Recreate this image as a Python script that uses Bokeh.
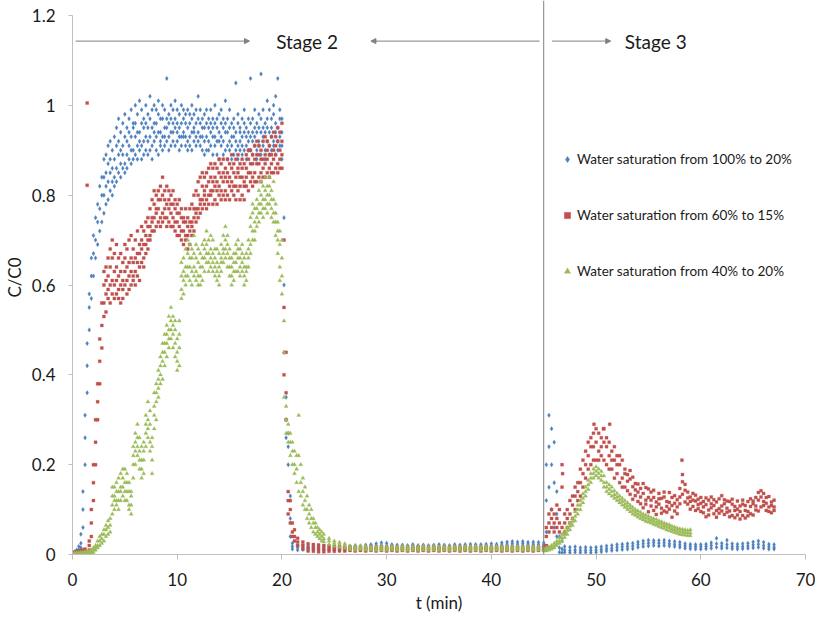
from bokeh.plotting import figure
from bokeh.models import Range1d, FixedTicker, Legend, LegendItem, Arrow, NormalHead, Span
from bokeh.embed import file_html
from bokeh.resources import INLINE
from bokeh.core.properties import value

# ---------------- axis ticks / labels ----------------
x_ticks = [0, 10, 20, 30, 40, 50, 60, 70]
x_tick_labels = ["0", "10", "20", "30", "40", "50", "60", "70"]
y_ticks = [0, 0.2, 0.4, 0.6, 0.8, 1.0, 1.2]
y_tick_labels = ["0", "0.2", "0.4", "0.6", "0.8", "1", "1.2"]
x_title = "t (min)"
y_title = "C/C0"

series_names = ["Water saturation from 100% to 20%",
                "Water saturation from 60% to 15%",
                "Water saturation from 40% to 20%"]
stage_labels = ["Stage 2", "Stage 3"]

# ---------------- data: rows of (t [min], C/C0 readings at that time) ----------------
blue_rows = [
    (0.0, 0.000, 0.002, 0.004), (0.2, 0.002, 0.004, 0.006), (0.4, 0.003, 0.006, 0.010),
    (0.6, 0.005, 0.010, 0.018), (0.8, 0.015, 0.025, 0.045), (1.0, 0.06, 0.10, 0.14),
    (1.2, 0.20, 0.26, 0.31), (1.4, 0.36, 0.42, 0.47), (1.6, 0.50, 0.55, 0.58),
    (1.8, 0.57, 0.62, 0.66), (2.0, 0.62, 0.67, 0.71), (2.2, 0.66, 0.70, 0.75),
    (2.4, 0.69, 0.74, 0.78), (2.6, 0.72, 0.77, 0.82), (2.8, 0.74, 0.80, 0.84),
    (3.0, 0.76, 0.84, 0.80, 0.88), (3.2, 0.82, 0.78, 0.89, 0.85), (3.4, 0.79, 0.87, 0.83, 0.91),
    (3.6, 0.85, 0.81, 0.92, 0.88), (3.8, 0.83, 0.90, 0.86, 0.80), (4.0, 0.88, 0.84, 0.93, 0.82),
    (4.2, 0.86, 0.91, 0.83, 0.95), (4.4, 0.92, 0.85, 0.89, 0.97), (4.6, 0.84, 0.94, 0.90, 0.87),
    (4.8, 0.91, 0.86, 0.96, 0.89), (5.0, 0.87, 0.93, 0.85, 0.98), (5.2, 0.95, 0.89, 0.92, 0.86),
    (5.4, 0.88, 0.97, 0.91, 0.94), (5.6, 0.93, 0.87, 0.99, 0.90), (5.8, 0.90, 0.95, 0.88, 0.96),
    (6.0, 0.96, 0.89, 0.93, 1.00), (6.2, 0.88, 0.98, 0.91, 0.94), (6.4, 0.94, 0.90, 1.01, 0.92),
    (6.6, 0.91, 0.96, 0.88, 0.99), (6.8, 0.97, 0.92, 0.95, 0.89), (7.0, 0.90, 1.00, 0.93, 0.96),
    (7.2, 0.95, 0.89, 0.98, 0.92), (7.4, 0.93, 0.97, 0.90, 1.02), (7.6, 0.99, 0.91, 0.95, 0.88),
    (7.8, 0.92, 0.96, 1.00, 0.94), (8.0, 0.96, 0.90, 0.93, 0.99), (8.2, 0.89, 0.98, 0.94, 1.01),
    (8.4, 0.94, 0.91, 0.97, 0.92), (8.6, 0.97, 0.93, 0.90, 1.00), (8.8, 0.91, 0.99, 0.95, 0.93),
    (9.0, 0.95, 0.92, 1.06, 0.97), (9.2, 0.93, 0.98, 0.90, 0.96), (9.4, 1.00, 0.94, 0.97, 0.91),
    (9.6, 0.92, 0.96, 0.99, 0.94), (9.8, 0.97, 0.91, 0.95, 1.01), (10.0, 0.94, 0.99, 0.92, 0.96),
    (10.2, 0.90, 0.95, 0.98, 0.93), (10.4, 0.96, 0.93, 1.00, 0.91), (10.6, 0.93, 0.97, 0.94, 0.99),
    (10.8, 0.98, 0.91, 0.96, 0.93), (11.0, 0.92, 0.95, 0.99, 0.90), (11.2, 0.96, 0.93, 0.91, 0.98),
    (11.4, 0.90, 0.97, 0.94, 1.00), (11.6, 0.95, 0.92, 0.98, 0.94), (11.8, 0.93, 0.99, 0.91, 0.96),
    (12.0, 0.97, 0.94, 1.02, 0.92), (12.2, 0.91, 0.96, 0.93, 0.99), (12.4, 0.95, 0.90, 0.97, 0.93),
    (12.6, 0.92, 0.98, 0.95, 0.89), (12.8, 0.96, 0.93, 0.90, 0.99), (13.0, 0.90, 0.95, 0.97, 0.92),
    (13.2, 0.94, 0.91, 0.99, 0.96), (13.4, 0.97, 0.93, 0.89, 0.95), (13.6, 0.91, 0.96, 0.93, 1.00),
    (13.8, 0.95, 0.89, 0.97, 0.92), (14.0, 0.92, 0.98, 0.94, 0.88), (14.2, 0.96, 0.91, 0.99, 0.93),
    (14.4, 0.89, 0.95, 0.92, 0.97), (14.6, 0.94, 0.90, 0.96, 1.01), (14.8, 0.91, 0.97, 0.88, 0.94),
    (15.0, 0.95, 0.92, 0.99, 0.90), (15.2, 0.88, 0.96, 0.93, 0.91), (15.4, 0.93, 0.89, 0.97, 0.95),
    (15.6, 0.90, 0.94, 1.05, 0.92), (15.8, 0.96, 0.91, 0.88, 0.98), (16.0, 0.92, 0.95, 0.90, 0.94),
    (16.2, 0.89, 0.97, 0.93, 0.91), (16.4, 0.94, 0.90, 0.96, 0.99), (16.6, 0.91, 0.95, 0.88, 0.93),
    (16.8, 0.97, 0.92, 0.94, 0.90), (17.0, 0.90, 0.96, 1.06, 0.93), (17.2, 0.94, 0.89, 0.97, 0.92),
    (17.4, 0.91, 0.95, 0.93, 0.99), (17.6, 0.96, 0.90, 0.94, 0.88), (17.8, 0.92, 0.98, 0.91, 0.95),
    (18.0, 0.89, 0.94, 1.07, 0.97), (18.2, 0.95, 0.91, 0.93, 0.99), (18.4, 0.90, 0.96, 0.88, 0.94),
    (18.6, 0.97, 0.92, 0.95, 1.01), (18.8, 0.91, 0.99, 0.94, 0.89), (19.0, 0.95, 0.90, 0.97, 0.93),
    (19.2, 0.92, 0.98, 0.91, 1.00), (19.4, 0.96, 0.89, 0.94, 1.02), (19.6, 0.90, 0.95, 1.06, 0.92),
    (19.8, 0.97, 0.93, 0.99, 0.91), (20.0, 0.88, 0.94, 0.97, 0.91), (20.2, 0.45, 0.60, 0.75),
    (20.4, 0.26, 0.30, 0.35), (20.6, 0.20, 0.24, 0.27), (20.8, 0.04, 0.08, 0.13),
    (21.0, 0.012, 0.018, 0.025),
    (21.5, 0.010, 0.015, 0.020), (22.0, 0.011, 0.016, 0.021), (22.5, 0.010, 0.014, 0.019),
    (23.0, 0.012, 0.016, 0.020), (23.5, 0.011, 0.015, 0.019), (24.0, 0.010, 0.014, 0.018),
    (24.5, 0.011, 0.015, 0.020), (25.0, 0.010, 0.014, 0.018), (25.5, 0.011, 0.015, 0.019),
    (26.0, 0.010, 0.014, 0.018), (26.5, 0.011, 0.015, 0.019), (27.0, 0.012, 0.016, 0.020),
    (27.5, 0.011, 0.015, 0.019), (28.0, 0.012, 0.016, 0.021), (28.5, 0.013, 0.017, 0.022),
    (29.0, 0.014, 0.019, 0.024), (29.5, 0.015, 0.020, 0.026), (30.0, 0.014, 0.019, 0.025),
    (30.5, 0.013, 0.018, 0.022), (31.0, 0.012, 0.016, 0.021), (31.5, 0.013, 0.017, 0.021),
    (32.0, 0.012, 0.016, 0.020), (32.5, 0.013, 0.017, 0.022), (33.0, 0.012, 0.016, 0.020),
    (33.5, 0.013, 0.017, 0.021), (34.0, 0.012, 0.016, 0.020), (34.5, 0.013, 0.017, 0.021),
    (35.0, 0.012, 0.017, 0.022), (35.5, 0.013, 0.017, 0.021), (36.0, 0.012, 0.016, 0.020),
    (36.5, 0.013, 0.017, 0.022), (37.0, 0.012, 0.017, 0.021), (37.5, 0.013, 0.018, 0.022),
    (38.0, 0.014, 0.018, 0.023), (38.5, 0.013, 0.017, 0.022), (39.0, 0.014, 0.018, 0.022),
    (39.5, 0.013, 0.018, 0.023), (40.0, 0.014, 0.019, 0.024), (40.5, 0.015, 0.019, 0.023),
    (41.0, 0.017, 0.021, 0.026), (41.5, 0.018, 0.023, 0.028), (42.0, 0.019, 0.024, 0.029),
    (42.5, 0.018, 0.023, 0.028), (43.0, 0.019, 0.024, 0.029), (43.5, 0.018, 0.023, 0.027),
    (44.0, 0.019, 0.023, 0.028), (44.5, 0.018, 0.022, 0.027),
    (45.0, 0.018, 0.022, 0.026), (45.25, 0.05, 0.12, 0.20), (45.5, 0.15, 0.24, 0.31),
    (45.75, 0.10, 0.20, 0.28), (46.0, 0.06, 0.16, 0.25), (46.25, 0.04, 0.09, 0.14),
    (46.5, 0.005, 0.015, 0.04), (46.75, 0.004, 0.012, 0.03), (47.0, 0.005, 0.010, 0.018),
    (47.5, 0.004, 0.009, 0.016), (48.0, 0.005, 0.010, 0.017), (48.5, 0.004, 0.009, 0.015),
    (49.0, 0.005, 0.010, 0.016), (49.5, 0.004, 0.009, 0.015), (50.0, 0.005, 0.010, 0.016),
    (50.5, 0.006, 0.011, 0.017), (51.0, 0.008, 0.013, 0.019), (51.5, 0.009, 0.014, 0.020),
    (52.0, 0.010, 0.016, 0.022), (52.5, 0.011, 0.017, 0.023), (53.0, 0.012, 0.018, 0.024),
    (53.5, 0.013, 0.019, 0.025), (54.0, 0.016, 0.022, 0.028), (54.5, 0.018, 0.024, 0.030),
    (55.0, 0.019, 0.025, 0.032), (55.5, 0.020, 0.026, 0.031), (56.0, 0.019, 0.025, 0.031),
    (56.5, 0.020, 0.026, 0.032), (57.0, 0.019, 0.024, 0.030), (57.5, 0.018, 0.023, 0.029),
    (58.0, 0.016, 0.021, 0.027), (58.5, 0.014, 0.019, 0.024), (59.0, 0.013, 0.018, 0.023),
    (59.5, 0.012, 0.017, 0.022), (60.0, 0.012, 0.017, 0.022), (60.5, 0.013, 0.018, 0.023),
    (61.0, 0.014, 0.020, 0.026), (61.5, 0.016, 0.024, 0.036), (62.0, 0.014, 0.019, 0.025),
    (62.5, 0.015, 0.022, 0.032), (63.0, 0.013, 0.018, 0.024), (63.5, 0.012, 0.017, 0.023),
    (64.0, 0.013, 0.018, 0.024), (64.5, 0.014, 0.019, 0.025), (65.0, 0.015, 0.021, 0.028),
    (65.5, 0.016, 0.023, 0.030), (66.0, 0.014, 0.020, 0.027), (66.5, 0.012, 0.017, 0.023),
    (67.0, 0.012, 0.016, 0.022),
]

red_rows = [
    (0.0, 0.000, 0.002, 0.004), (0.2, 0.001, 0.003, 0.005), (0.4, 0.002, 0.004, 0.006),
    (0.6, 0.002, 0.005, 0.008), (0.8, 0.003, 0.006, 0.009), (1.0, 0.003, 0.006, 0.010),
    (1.2, 0.004, 0.007, 0.012), (1.4, 0.005, 0.822, 1.005), (1.6, 0.01, 0.02, 0.03),
    (1.8, 0.04, 0.07, 0.10), (2.0, 0.12, 0.16, 0.20), (2.2, 0.20, 0.25, 0.30),
    (2.4, 0.30, 0.34, 0.38), (2.6, 0.38, 0.43, 0.48), (2.8, 0.46, 0.51, 0.56),
    (3.0, 0.53, 0.60, 0.56, 0.63), (3.2, 0.58, 0.54, 0.64, 0.61), (3.4, 0.62, 0.57, 0.66, 0.59),
    (3.6, 0.56, 0.64, 0.60, 0.68), (3.8, 0.66, 0.61, 0.70, 0.58), (4.0, 0.60, 0.67, 0.57, 0.63),
    (4.2, 0.64, 0.58, 0.69, 0.61), (4.4, 0.57, 0.62, 0.59, 0.66), (4.6, 0.63, 0.56, 0.67, 0.60),
    (4.8, 0.59, 0.65, 0.61, 0.57), (5.0, 0.66, 0.60, 0.63, 0.69), (5.2, 0.61, 0.68, 0.58, 0.64),
    (5.4, 0.65, 0.62, 0.70, 0.59), (5.6, 0.60, 0.66, 0.63, 0.71), (5.8, 0.68, 0.61, 0.65, 0.62),
    (6.0, 0.63, 0.70, 0.66, 0.60), (6.2, 0.67, 0.62, 0.72, 0.65), (6.4, 0.64, 0.69, 0.61, 0.67),
    (6.6, 0.70, 0.65, 0.68, 0.73), (6.8, 0.66, 0.72, 0.69, 0.64), (7.0, 0.71, 0.67, 0.74, 0.69),
    (7.2, 0.68, 0.75, 0.70, 0.73), (7.4, 0.73, 0.70, 0.77, 0.71), (7.6, 0.75, 0.72, 0.79, 0.74),
    (7.8, 0.72, 0.78, 0.75, 0.81), (8.0, 0.77, 0.73, 0.80, 0.76), (8.2, 0.74, 0.81, 0.77, 0.79),
    (8.4, 0.79, 0.75, 0.82, 0.73), (8.6, 0.76, 0.80, 0.74, 0.84), (8.8, 0.81, 0.77, 0.79, 0.75),
    (9.0, 0.75, 0.82, 0.78, 0.73), (9.2, 0.79, 0.74, 0.81, 0.77), (9.4, 0.76, 0.80, 0.73, 0.78),
    (9.6, 0.73, 0.78, 0.75, 0.81), (9.8, 0.77, 0.72, 0.79, 0.74), (10.0, 0.74, 0.78, 0.71, 0.76),
    (10.2, 0.71, 0.76, 0.73, 0.79), (10.4, 0.75, 0.70, 0.77, 0.72), (10.6, 0.72, 0.75, 0.69, 0.74),
    (10.8, 0.70, 0.74, 0.71, 0.77), (11.0, 0.73, 0.68, 0.75, 0.71), (11.2, 0.69, 0.74, 0.72, 0.77),
    (11.4, 0.74, 0.71, 0.78, 0.73), (11.6, 0.72, 0.77, 0.75, 0.80), (11.8, 0.77, 0.74, 0.81, 0.76),
    (12.0, 0.75, 0.80, 0.77, 0.83), (12.2, 0.79, 0.76, 0.84, 0.78), (12.4, 0.77, 0.82, 0.79, 0.85),
    (12.6, 0.81, 0.78, 0.84, 0.80), (12.8, 0.79, 0.85, 0.77, 0.82), (13.0, 0.83, 0.80, 0.86, 0.78),
    (13.2, 0.80, 0.84, 0.81, 0.87), (13.4, 0.78, 0.83, 0.86, 0.81), (13.6, 0.84, 0.79, 0.82, 0.87),
    (13.8, 0.81, 0.86, 0.78, 0.83), (14.0, 0.85, 0.80, 0.88, 0.82), (14.2, 0.79, 0.84, 0.81, 0.87),
    (14.4, 0.83, 0.88, 0.80, 0.85), (14.6, 0.86, 0.81, 0.84, 0.79), (14.8, 0.80, 0.85, 0.88, 0.83),
    (15.0, 0.84, 0.79, 0.82, 0.87), (15.2, 0.81, 0.86, 0.83, 0.89), (15.4, 0.85, 0.80, 0.87, 0.82),
    (15.6, 0.82, 0.88, 0.79, 0.84), (15.8, 0.86, 0.81, 0.85, 0.89), (16.0, 0.79, 0.84, 0.87, 0.82),
    (16.2, 0.84, 0.80, 0.86, 0.88), (16.4, 0.82, 0.87, 0.83, 0.79), (16.6, 0.86, 0.82, 0.89, 0.84),
    (16.8, 0.81, 0.88, 0.85, 0.90), (17.0, 0.87, 0.83, 0.90, 0.85), (17.2, 0.84, 0.89, 0.82, 0.87),
    (17.4, 0.88, 0.85, 0.91, 0.83), (17.6, 0.83, 0.87, 0.89, 0.92), (17.8, 0.89, 0.84, 0.87, 0.91),
    (18.0, 0.85, 0.90, 0.83, 0.88), (18.2, 0.88, 0.86, 0.92, 0.84), (18.4, 0.84, 0.89, 0.87, 0.93),
    (18.6, 0.90, 0.85, 0.88, 0.92), (18.8, 0.86, 0.91, 0.84, 0.89), (19.0, 0.89, 0.87, 0.93, 0.85),
    (19.2, 0.85, 0.90, 0.88, 0.94), (19.4, 0.91, 0.86, 0.89, 0.93), (19.6, 0.87, 0.92, 0.85, 0.95),
    (19.8, 0.90, 0.88, 0.94, 0.86), (20.0, 0.86, 0.92, 0.89, 0.96), (20.2, 0.40, 0.55, 0.70),
    (20.4, 0.30, 0.36, 0.45), (20.6, 0.09, 0.12, 0.14), (20.8, 0.07, 0.10, 0.12),
    (21.0, 0.04, 0.05, 0.07), (21.2, 0.03, 0.04, 0.055),
    (21.5, 0.020, 0.028, 0.036), (22.0, 0.012, 0.020, 0.028), (22.5, 0.008, 0.015, 0.024),
    (23.0, 0.007, 0.014, 0.022), (23.5, 0.006, 0.013, 0.021), (24.0, 0.006, 0.012, 0.020),
    (24.5, 0.007, 0.012, 0.019), (25.0, 0.007, 0.012, 0.018), (25.5, 0.008, 0.012, 0.017),
    (26.0, 0.008, 0.012, 0.016), (26.5, 0.009, 0.013, 0.017), (27.0, 0.008, 0.012, 0.016),
    (27.5, 0.009, 0.013, 0.017), (28.0, 0.008, 0.012, 0.016), (28.5, 0.009, 0.013, 0.017),
    (29.0, 0.008, 0.012, 0.016), (29.5, 0.009, 0.013, 0.018), (30.0, 0.008, 0.012, 0.016),
    (30.5, 0.009, 0.013, 0.017), (31.0, 0.008, 0.012, 0.016), (31.5, 0.009, 0.013, 0.017),
    (32.0, 0.008, 0.012, 0.016), (32.5, 0.009, 0.013, 0.017), (33.0, 0.008, 0.012, 0.016),
    (33.5, 0.009, 0.013, 0.017), (34.0, 0.008, 0.012, 0.016), (34.5, 0.009, 0.013, 0.017),
    (35.0, 0.008, 0.012, 0.016), (35.5, 0.009, 0.013, 0.017), (36.0, 0.008, 0.012, 0.016),
    (36.5, 0.009, 0.013, 0.017), (37.0, 0.008, 0.012, 0.016), (37.5, 0.009, 0.013, 0.017),
    (38.0, 0.008, 0.012, 0.016), (38.5, 0.009, 0.013, 0.017), (39.0, 0.008, 0.012, 0.016),
    (39.5, 0.009, 0.013, 0.017), (40.0, 0.008, 0.012, 0.016), (40.5, 0.009, 0.013, 0.017),
    (41.0, 0.008, 0.012, 0.016), (41.5, 0.009, 0.013, 0.017), (42.0, 0.008, 0.012, 0.016),
    (42.5, 0.009, 0.013, 0.017), (43.0, 0.008, 0.012, 0.016), (43.5, 0.009, 0.013, 0.017),
    (44.0, 0.008, 0.012, 0.016), (44.5, 0.009, 0.013, 0.017),
    (45.0, 0.010, 0.013, 0.017), (45.25, 0.02, 0.04, 0.06), (45.5, 0.07, 0.05, 0.09),
    (45.75, 0.08, 0.10, 0.06), (46.0, 0.05, 0.09, 0.07), (46.25, 0.08, 0.06, 0.11),
    (46.5, 0.05, 0.10, 0.07), (46.75, 0.15, 0.06, 0.20), (47.0, 0.07, 0.05, 0.09),
    (47.25, 0.06, 0.10, 0.08), (47.5, 0.09, 0.07, 0.12), (47.75, 0.11, 0.08, 0.13),
    (48.0, 0.13, 0.10, 0.15), (48.25, 0.12, 0.16, 0.14), (48.5, 0.16, 0.13, 0.19),
    (48.75, 0.18, 0.15, 0.21), (49.0, 0.20, 0.17, 0.23), (49.25, 0.22, 0.25, 0.19),
    (49.5, 0.24, 0.20, 0.26), (49.75, 0.21, 0.27, 0.24), (50.0, 0.25, 0.21, 0.28),
    (50.25, 0.23, 0.27, 0.21), (50.5, 0.26, 0.22, 0.24), (50.75, 0.21, 0.25, 0.28),
    (51.0, 0.24, 0.20, 0.26), (51.25, 0.22, 0.25, 0.19), (51.5, 0.19, 0.23, 0.21),
    (51.75, 0.21, 0.17, 0.24), (52.0, 0.18, 0.22, 0.20), (52.25, 0.20, 0.16, 0.22),
    (52.5, 0.17, 0.21, 0.15), (52.75, 0.19, 0.15, 0.18),
    (53.0, 0.142, 0.178, 0.163), (53.25, 0.168, 0.134, 0.187), (53.5, 0.151, 0.123, 0.172),
    (53.75, 0.131, 0.158, 0.144), (54.0, 0.157, 0.118, 0.139), (54.25, 0.113, 0.147, 0.128),
    (54.5, 0.136, 0.104, 0.158), (54.75, 0.121, 0.149, 0.112), (55.0, 0.127, 0.095, 0.146),
    (55.25, 0.108, 0.139, 0.121), (55.5, 0.098, 0.127, 0.143), (55.75, 0.117, 0.089, 0.106),
    (56.0, 0.136, 0.112, 0.124), (56.25, 0.103, 0.125, 0.092), (56.5, 0.128, 0.097, 0.139),
    (56.75, 0.094, 0.118, 0.107), (57.0, 0.116, 0.138, 0.101), (57.25, 0.109, 0.083, 0.127),
    (57.5, 0.097, 0.131, 0.114), (57.75, 0.122, 0.091, 0.106), (58.0, 0.113, 0.147, 0.128),
    (58.25, 0.162, 0.134, 0.178), (58.5, 0.143, 0.117, 0.156), (58.75, 0.112, 0.139, 0.126),
    (59.0, 0.128, 0.101, 0.118), (59.25, 0.107, 0.136, 0.121), (59.5, 0.119, 0.098, 0.132),
    (59.75, 0.102, 0.123, 0.111), (60.0, 0.127, 0.096, 0.114), (60.25, 0.093, 0.118, 0.106),
    (60.5, 0.111, 0.084, 0.126), (60.75, 0.121, 0.099, 0.088), (61.0, 0.104, 0.128, 0.113),
    (61.25, 0.091, 0.109, 0.122), (61.5, 0.117, 0.083, 0.098), (61.75, 0.102, 0.124, 0.092),
    (62.0, 0.108, 0.131, 0.097), (62.25, 0.089, 0.113, 0.122), (62.5, 0.119, 0.094, 0.103),
    (62.75, 0.097, 0.118, 0.084), (63.0, 0.112, 0.087, 0.123), (63.25, 0.082, 0.107, 0.098),
    (63.5, 0.101, 0.119, 0.088), (63.75, 0.108, 0.079, 0.096), (64.0, 0.087, 0.112, 0.121),
    (64.25, 0.098, 0.081, 0.109), (64.5, 0.118, 0.096, 0.086), (64.75, 0.091, 0.107, 0.124),
    (65.0, 0.113, 0.088, 0.119), (65.25, 0.099, 0.127, 0.108), (65.5, 0.121, 0.097, 0.138),
    (65.75, 0.128, 0.106, 0.142), (66.0, 0.109, 0.136, 0.118), (66.25, 0.127, 0.098, 0.114),
    (66.5, 0.106, 0.129, 0.096), (66.75, 0.117, 0.093, 0.109), (67.0, 0.098, 0.121, 0.106),
]
red_outliers = [(49.8, 0.29), (50.7, 0.28), (51.3, 0.29), (58.2, 0.21), (46.8, 0.18)]

green_rows = [
    (0.0, 0.000, 0.001, 0.003), (0.2, 0.000, 0.002, 0.003), (0.4, 0.001, 0.002, 0.004),
    (0.6, 0.001, 0.003, 0.004), (0.8, 0.001, 0.003, 0.005), (1.0, 0.002, 0.003, 0.005),
    (1.2, 0.002, 0.004, 0.006), (1.4, 0.002, 0.004, 0.006), (1.6, 0.003, 0.005, 0.008),
    (1.8, 0.003, 0.006, 0.010), (2.0, 0.005, 0.010, 0.015), (2.2, 0.010, 0.015, 0.020),
    (2.4, 0.015, 0.020, 0.030), (2.6, 0.020, 0.030, 0.040), (2.8, 0.025, 0.035, 0.045),
    (3.0, 0.030, 0.045, 0.055), (3.2, 0.040, 0.055, 0.065), (3.4, 0.045, 0.060, 0.075),
    (3.6, 0.050, 0.065, 0.080),
    (3.8, 0.09, 0.13, 0.11, 0.15), (4.0, 0.12, 0.10, 0.15, 0.13), (4.2, 0.14, 0.11, 0.16, 0.12),
    (4.4, 0.10, 0.14, 0.12, 0.17), (4.6, 0.15, 0.12, 0.18, 0.14), (4.8, 0.13, 0.17, 0.15, 0.19),
    (5.0, 0.16, 0.14, 0.19, 0.12), (5.2, 0.12, 0.16, 0.14, 0.18), (5.4, 0.11, 0.14, 0.10, 0.16),
    (5.6, 0.09, 0.13, 0.11, 0.14), (5.8, 0.20, 0.17, 0.24, 0.22), (6.0, 0.23, 0.27, 0.20, 0.25),
    (6.2, 0.26, 0.22, 0.29, 0.24), (6.4, 0.19, 0.23, 0.21, 0.26), (6.6, 0.17, 0.21, 0.19, 0.24),
    (6.8, 0.21, 0.18, 0.25, 0.23), (7.0, 0.27, 0.24, 0.31, 0.29), (7.2, 0.30, 0.26, 0.34, 0.28),
    (7.4, 0.25, 0.29, 0.23, 0.32), (7.6, 0.21, 0.26, 0.18, 0.24), (7.8, 0.28, 0.33, 0.31, 0.36),
    (8.0, 0.34, 0.30, 0.38, 0.36), (8.2, 0.37, 0.41, 0.35, 0.39), (8.4, 0.40, 0.38, 0.44, 0.42),
    (8.6, 0.43, 0.39, 0.47, 0.45), (8.8, 0.45, 0.42, 0.49, 0.47), (9.0, 0.47, 0.44, 0.51, 0.49),
    (9.2, 0.50, 0.46, 0.53, 0.48), (9.4, 0.52, 0.48, 0.55, 0.50), (9.6, 0.49, 0.53, 0.46, 0.51),
    (9.8, 0.47, 0.50, 0.44, 0.52), (10.0, 0.43, 0.48, 0.45, 0.41), (10.2, 0.46, 0.52, 0.42, 0.49),
    (10.4, 0.57, 0.62, 0.59, 0.65), (10.6, 0.61, 0.58, 0.66, 0.63), (10.8, 0.64, 0.60, 0.68, 0.62),
    (11.0, 0.62, 0.67, 0.64, 0.70), (11.2, 0.66, 0.61, 0.69, 0.64), (11.4, 0.63, 0.68, 0.60, 0.66),
    (11.6, 0.67, 0.64, 0.71, 0.62), (11.8, 0.61, 0.66, 0.63, 0.69), (12.0, 0.65, 0.62, 0.68, 0.60),
    (12.2, 0.60, 0.64, 0.67, 0.62), (12.4, 0.64, 0.61, 0.66, 0.69), (12.6, 0.66, 0.70, 0.63, 0.68),
    (12.8, 0.69, 0.65, 0.72, 0.67), (13.0, 0.65, 0.70, 0.67, 0.63), (13.2, 0.68, 0.64, 0.71, 0.66),
    (13.4, 0.63, 0.67, 0.65, 0.70), (13.6, 0.66, 0.62, 0.68, 0.64), (13.8, 0.61, 0.65, 0.63, 0.68),
    (14.0, 0.64, 0.60, 0.67, 0.62), (14.2, 0.66, 0.63, 0.69, 0.65), (14.4, 0.68, 0.65, 0.71, 0.67),
    (14.6, 0.70, 0.66, 0.73, 0.68), (14.8, 0.67, 0.71, 0.64, 0.69), (15.0, 0.64, 0.68, 0.62, 0.66),
    (15.2, 0.62, 0.66, 0.60, 0.64), (15.4, 0.65, 0.61, 0.67, 0.63), (15.6, 0.63, 0.67, 0.65, 0.69),
    (15.8, 0.66, 0.63, 0.70, 0.68), (16.0, 0.64, 0.68, 0.62, 0.66), (16.2, 0.67, 0.63, 0.65, 0.69),
    (16.4, 0.62, 0.66, 0.60, 0.64), (16.6, 0.64, 0.61, 0.67, 0.63), (16.8, 0.66, 0.70, 0.64, 0.68),
    (17.0, 0.69, 0.73, 0.67, 0.75), (17.2, 0.72, 0.76, 0.70, 0.78), (17.4, 0.74, 0.70, 0.77, 0.72),
    (17.6, 0.75, 0.79, 0.73, 0.77), (17.8, 0.78, 0.74, 0.81, 0.76), (18.0, 0.76, 0.80, 0.78, 0.83),
    (18.2, 0.79, 0.75, 0.82, 0.77), (18.4, 0.81, 0.77, 0.84, 0.79), (18.6, 0.78, 0.82, 0.76, 0.80),
    (18.8, 0.80, 0.84, 0.78, 0.82), (19.0, 0.77, 0.81, 0.75, 0.79), (19.2, 0.79, 0.76, 0.83, 0.74),
    (19.4, 0.74, 0.78, 0.71, 0.76), (19.6, 0.70, 0.74, 0.67, 0.72), (19.8, 0.64, 0.69, 0.61, 0.72),
    (20.0, 0.58, 0.66, 0.62, 0.70), (20.2, 0.35, 0.45, 0.52),
    (20.4, 0.27, 0.30, 0.33), (20.6, 0.25, 0.27, 0.29), (20.8, 0.22, 0.25, 0.27),
    (21.0, 0.20, 0.23, 0.25), (21.2, 0.18, 0.20, 0.23), (21.4, 0.16, 0.19, 0.22),
    (21.6, 0.14, 0.22, 0.31), (21.8, 0.13, 0.16, 0.20), (22.0, 0.11, 0.14, 0.17),
    (22.2, 0.10, 0.12, 0.15), (22.4, 0.08, 0.10, 0.13), (22.6, 0.07, 0.09, 0.11),
    (22.8, 0.06, 0.08, 0.10), (23.0, 0.05, 0.07, 0.08), (23.2, 0.045, 0.06, 0.07),
    (23.4, 0.04, 0.05, 0.06), (23.6, 0.035, 0.045, 0.055), (23.8, 0.03, 0.04, 0.05),
    (24.0, 0.028, 0.035, 0.045), (24.5, 0.022, 0.030, 0.036), (25.0, 0.018, 0.025, 0.030),
    (25.5, 0.016, 0.022, 0.027), (26.0, 0.014, 0.019, 0.024),
    (26.5, 0.011, 0.015, 0.019), (27.0, 0.010, 0.014, 0.018), (27.5, 0.011, 0.015, 0.019),
    (28.0, 0.010, 0.014, 0.018), (28.5, 0.010, 0.013, 0.017), (29.0, 0.009, 0.013, 0.017),
    (29.5, 0.010, 0.014, 0.018), (30.0, 0.009, 0.013, 0.017), (30.5, 0.010, 0.014, 0.018),
    (31.0, 0.009, 0.013, 0.017), (31.5, 0.010, 0.014, 0.018), (32.0, 0.009, 0.013, 0.017),
    (32.5, 0.010, 0.014, 0.018), (33.0, 0.009, 0.013, 0.017), (33.5, 0.010, 0.014, 0.018),
    (34.0, 0.009, 0.013, 0.017), (34.5, 0.010, 0.014, 0.018), (35.0, 0.009, 0.013, 0.017),
    (35.5, 0.010, 0.014, 0.018), (36.0, 0.009, 0.013, 0.017), (36.5, 0.010, 0.014, 0.018),
    (37.0, 0.009, 0.013, 0.017), (37.5, 0.010, 0.014, 0.018), (38.0, 0.009, 0.013, 0.017),
    (38.5, 0.010, 0.014, 0.018), (39.0, 0.009, 0.013, 0.017), (39.5, 0.010, 0.014, 0.018),
    (40.0, 0.009, 0.013, 0.017), (40.5, 0.010, 0.014, 0.018), (41.0, 0.009, 0.013, 0.017),
    (41.5, 0.010, 0.014, 0.018), (42.0, 0.009, 0.013, 0.017), (42.5, 0.010, 0.014, 0.018),
    (43.0, 0.009, 0.013, 0.017), (43.5, 0.010, 0.014, 0.018), (44.0, 0.009, 0.013, 0.017),
    (44.5, 0.010, 0.014, 0.018),
    (45.0, 0.008, 0.011, 0.014), (45.25, 0.008, 0.011, 0.015), (45.5, 0.010, 0.013, 0.017),
    (45.75, 0.012, 0.016, 0.020), (46.0, 0.015, 0.020, 0.025), (46.25, 0.020, 0.025, 0.030),
    (46.5, 0.025, 0.030, 0.037), (46.75, 0.030, 0.037, 0.045), (47.0, 0.038, 0.045, 0.052),
    (47.25, 0.045, 0.053, 0.060), (47.5, 0.055, 0.063, 0.070), (47.75, 0.065, 0.073, 0.080),
    (48.0, 0.075, 0.085, 0.095), (48.25, 0.090, 0.100, 0.110), (48.5, 0.100, 0.110, 0.120),
    (48.75, 0.115, 0.125, 0.135), (49.0, 0.130, 0.140, 0.150), (49.25, 0.145, 0.155, 0.165),
    (49.5, 0.160, 0.170, 0.180), (49.75, 0.170, 0.180, 0.190), (50.0, 0.175, 0.185, 0.195),
    (50.25, 0.170, 0.180, 0.190), (50.5, 0.165, 0.175, 0.185), (50.75, 0.150, 0.160, 0.175),
    (51.0, 0.140, 0.150, 0.160), (51.25, 0.135, 0.145, 0.155), (51.5, 0.130, 0.140, 0.150),
    (51.75, 0.125, 0.133, 0.142), (52.0, 0.120, 0.128, 0.136), (52.25, 0.115, 0.122, 0.130),
    (52.5, 0.110, 0.118, 0.125), (52.75, 0.105, 0.112, 0.120), (53.0, 0.100, 0.108, 0.115),
    (53.25, 0.095, 0.103, 0.110), (53.5, 0.090, 0.098, 0.105), (53.75, 0.087, 0.094, 0.100),
    (54.0, 0.083, 0.090, 0.097), (54.25, 0.080, 0.087, 0.094), (54.5, 0.077, 0.084, 0.090),
    (54.75, 0.074, 0.081, 0.088), (55.0, 0.072, 0.078, 0.085), (55.25, 0.070, 0.076, 0.082),
    (55.5, 0.067, 0.074, 0.080), (55.75, 0.065, 0.071, 0.078), (56.0, 0.062, 0.069, 0.075),
    (56.25, 0.060, 0.067, 0.073), (56.5, 0.058, 0.064, 0.070), (56.75, 0.055, 0.062, 0.068),
    (57.0, 0.053, 0.060, 0.066), (57.25, 0.051, 0.057, 0.063), (57.5, 0.049, 0.055, 0.061),
    (57.75, 0.047, 0.053, 0.059), (58.0, 0.045, 0.051, 0.057), (58.25, 0.044, 0.050, 0.056),
    (58.5, 0.043, 0.049, 0.055), (58.75, 0.042, 0.048, 0.054), (59.0, 0.042, 0.048, 0.055),
]

colors = ["#4F81BD", "#C0504D", "#9BBB59"]
markers = ["diamond", "square", "triangle"]
marker_sizes = [4.5, 3.0, 4.0]


def expand(rows, extra=()):
    xs, ys = [], []
    for row in rows:
        t = row[0]
        for v in row[1:]:
            xs.append(t)
            ys.append(v)
    for t, v in extra:
        xs.append(t)
        ys.append(v)
    return xs, ys


FONT = "Lato"
TEXT_COLOR = "#1a1a1a"
AXIS_COLOR = "#BFBFBF"

p = figure(width=815, height=619, output_backend="svg", toolbar_location=None,
           x_range=Range1d(0, 70), y_range=Range1d(0, 1.2334),
           min_border_left=71, min_border_right=10, min_border_top=0, min_border_bottom=65)
p.background_fill_color = "white"
p.border_fill_color = "white"
p.outline_line_color = None
p.xgrid.grid_line_color = None
p.ygrid.grid_line_color = None

p.xaxis.ticker = FixedTicker(ticks=x_ticks)
p.xaxis.major_label_overrides = {t: s for t, s in zip(x_ticks, x_tick_labels)}
p.yaxis.ticker = FixedTicker(ticks=y_ticks)
p.yaxis.major_label_overrides = {t: s for t, s in zip(y_ticks, y_tick_labels)}
p.yaxis.bounds = (0, 1.2)
p.xaxis.axis_label = x_title
p.yaxis.axis_label = y_title

for ax in (p.xaxis, p.yaxis):
    ax.axis_line_color = AXIS_COLOR
    ax.major_tick_line_color = AXIS_COLOR
    ax.minor_tick_line_color = None
    ax.major_tick_in = 0
    ax.major_label_text_font = FONT
    ax.major_label_text_font_size = "17px"
    ax.major_label_text_color = TEXT_COLOR
    ax.axis_label_text_font = FONT
    ax.axis_label_text_font_size = "17px"
    ax.axis_label_text_font_style = "normal"
    ax.axis_label_text_color = TEXT_COLOR
p.xaxis.major_tick_out = 5
p.xaxis.major_label_standoff = 13
p.xaxis.axis_label_standoff = 3
p.yaxis.major_tick_out = 4
p.yaxis.major_label_standoff = 13
p.yaxis.axis_label_standoff = 4

# stage divider
p.add_layout(Span(location=45, dimension="height", line_color="#7F7F7F", line_width=1))

# data series
renderers = []
for rows, extra, col, mk, sz in ((blue_rows, (), colors[0], markers[0], marker_sizes[0]),
                                 (red_rows, red_outliers, colors[1], markers[1], marker_sizes[1]),
                                 (green_rows, (), colors[2], markers[2], marker_sizes[2])):
    xs, ys = expand(rows, extra)
    r = p.scatter(xs, ys, marker=mk, size=sz, fill_color=col, line_color=col, line_width=0.3)
    renderers.append(r)

# stage annotations
ARROW_C = "#808080"
stage_y = 1.143
for xs0, xs1 in ((0.3, 16.9), (44.6, 28.5), (45.8, 51.4)):
    p.add_layout(Arrow(end=NormalHead(size=5, fill_color=ARROW_C, line_color=ARROW_C, line_width=1),
                       x_start=xs0, y_start=stage_y, x_end=xs1, y_end=stage_y,
                       line_color=ARROW_C, line_width=1))
p.text(x=[22.4, 55.7], y=[stage_y, stage_y], text=stage_labels,
       text_font=value(FONT), text_font_size="19px", text_color=TEXT_COLOR,
       text_align="center", text_baseline="middle")

legend = Legend(items=[LegendItem(label=n, renderers=[r]) for n, r in zip(series_names, renderers)],
                location=(487, 275), orientation="vertical",
                glyph_width=16, glyph_height=16, label_height=16, spacing=40,
                label_standoff=2, padding=0, margin=0,
                border_line_color=None, background_fill_alpha=0,
                label_text_font=FONT, label_text_font_size="13.5px", label_text_color=TEXT_COLOR)
p.add_layout(legend)

open("out.html", "w").write(file_html(p, INLINE))
